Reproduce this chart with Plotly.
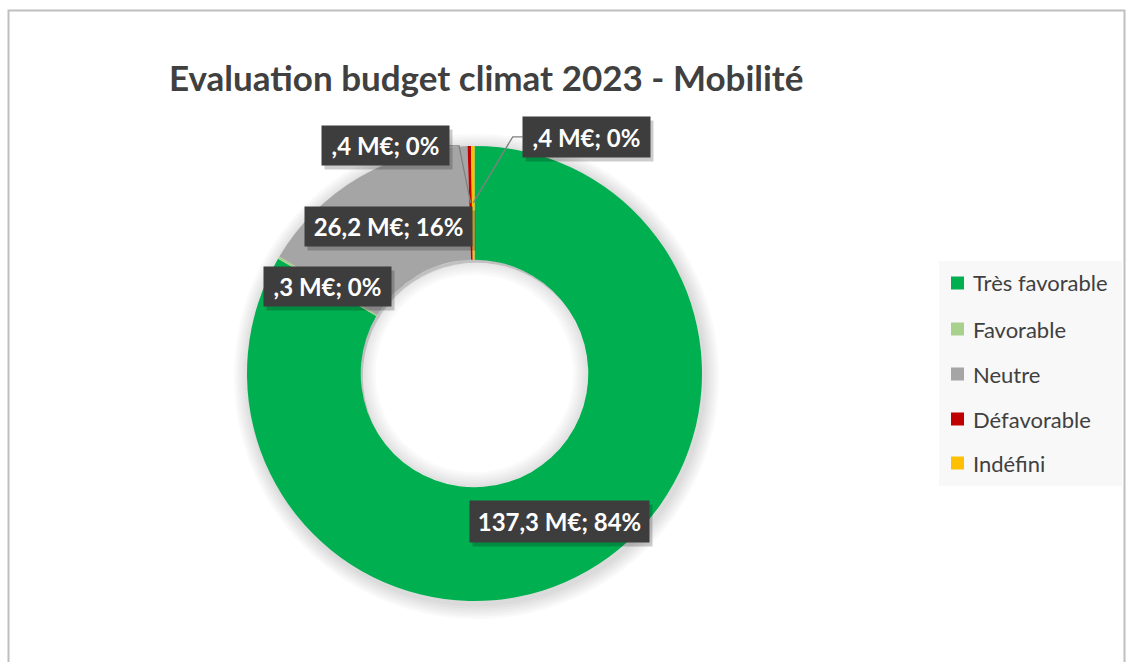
import math
import plotly.graph_objects as go

# Budget climat 2023 - Mobilité (M€), slices in clockwise order from 12 o'clock
categories = ["Très favorable", "Favorable", "Neutre", "Défavorable", "Indéfini"]
values_meur = [137.3, 0.3, 26.2, 0.4, 0.4]
percent_labels = ["84%", "0%", "16%", "0%", "0%"]
colors = ["#00B050", "#A9D18E", "#A5A5A5", "#C00000", "#FFC000"]

W, H = 1126, 662
CX, CY = 474.5, 373.5      # donut centre (px)
R_OUT = 227.5              # outer radius (px)
HOLE = 0.5
FONT = "Lato, 'Open Sans', sans-serif"
TEXT_GREY = "#404040"
BOX_GREY = "#3d3d3d"

# label layout: 'in' = centred on the ring, otherwise pixel offset + elbow side
label_mode = ["in", "in", "in", "out", "out"]
label_offset = [(0, 0), (0, 0), (0, 0), (-85, -57), (113, -66)]
label_box = [(179, 41), (127, 39), (167, 39), (127, 39), (127, 40)]


def fx(x):
    return x / W


def fy(y):
    return 1 - y / H


def domain(r, dx=0.0, dy=0.0):
    cx, cy = CX + dx, CY + dy
    return dict(x=[fx(cx - r), fx(cx + r)], y=[fy(cy + r), fy(cy - r)])


def fmt_value(v):
    s = f"{v:.1f}".replace(".", ",")
    if s.startswith("0,"):
        s = s[1:]
    return f"{s} M€"


fig = go.Figure()

# soft outer shadow of the ring
for k in range(1, 7):
    r = R_OUT + 2.5 * k
    fig.add_trace(go.Pie(
        values=[1], labels=["s"], domain=domain(r, 2, 3), hole=(R_OUT * HOLE) / r,
        marker=dict(colors=["rgba(0,0,0,0.025)"], line=dict(width=0)),
        textinfo="none", hoverinfo="skip", showlegend=False, sort=False,
    ))

# main donut
fig.add_trace(go.Pie(
    values=values_meur, labels=categories, domain=domain(R_OUT), hole=HOLE,
    marker=dict(colors=colors, line=dict(width=0)),
    sort=False, direction="clockwise", rotation=0,
    textinfo="none", showlegend=False,
))

# inner shadow inside the hole
r_in = R_OUT * HOLE
for k in range(1, 7):
    inner = r_in - 2.5 * k
    fig.add_trace(go.Pie(
        values=[1], labels=["h"], domain=domain(r_in), hole=inner / r_in,
        marker=dict(colors=["rgba(0,0,0,0.018)"], line=dict(width=0)),
        textinfo="none", hoverinfo="skip", showlegend=False, sort=False,
    ))

# data labels
total = sum(values_meur)
r_mid = R_OUT * (1 + HOLE) / 2
shapes = []
annotations = []
cum = 0.0
for i, v in enumerate(values_meur):
    theta = math.radians(360 * (cum + v / 2) / total)
    cum += v
    ax = CX + r_mid * math.sin(theta)
    ay = CY - r_mid * math.cos(theta)
    ox, oy = label_offset[i]
    bx, by = ax + ox, ay + oy
    bw, bh = label_box[i]
    if label_mode[i] == "out":
        edge = bx + bw / 2 if ox < 0 else bx - bw / 2
        elbow = edge + 10 if ox < 0 else edge - 10
        shapes.append(dict(
            type="path", xref="paper", yref="paper",
            path=f"M {fx(edge)} {fy(by)} L {fx(elbow)} {fy(by)} L {fx(ax)} {fy(ay)}",
            line=dict(color="#808080", width=1.3),
        ))
    text = f"<b>{fmt_value(v)}; {percent_labels[i]}</b>"
    common = dict(x=fx(bx), y=fy(by), xref="paper", yref="paper", showarrow=False,
                  xanchor="center", yanchor="middle", width=bw, height=bh, borderpad=0)
    # drop shadow of the label box
    annotations.append(dict(text="", xshift=3, yshift=-4,
                            bgcolor="rgba(0,0,0,0.2)", **common))
    annotations.append(dict(text=text, bgcolor=BOX_GREY,
                            font=dict(family=FONT, size=24, color="white"), **common))

# title
annotations.append(dict(
    x=fx(486), y=fy(77), xref="paper", yref="paper", showarrow=False,
    xanchor="center", yanchor="middle",
    text="<b>Evaluation budget climat 2023 - Mobilité</b>",
    font=dict(family=FONT, size=35, color=TEXT_GREY),
))

# chart frame (top and left edges visible)
shapes.append(dict(
    type="rect", xref="paper", yref="paper",
    x0=fx(8.5), x1=fx(1124.5), y0=fy(700), y1=fy(10.5),
    line=dict(color="#BFBFBF", width=2), layer="below",
))

# legend panel
shapes.append(dict(
    type="rect", xref="paper", yref="paper",
    x0=fx(939), x1=fx(1122), y0=fy(486), y1=fy(261),
    fillcolor="#F8F8F8", line=dict(width=0), layer="below",
))
legend_y = [283, 329, 374, 419, 463]
for cat, col, ly in zip(categories, colors, legend_y):
    shapes.append(dict(
        type="rect", xref="paper", yref="paper",
        x0=fx(951), x1=fx(964), y0=fy(ly + 6.5), y1=fy(ly - 6.5),
        fillcolor=col, line=dict(width=0),
    ))
    annotations.append(dict(
        x=fx(971), y=fy(ly), xref="paper", yref="paper", showarrow=False,
        xanchor="left", yanchor="middle", text=cat,
        font=dict(family=FONT, size=22, color=TEXT_GREY),
    ))

fig.update_layout(
    width=W, height=H,
    margin=dict(l=0, r=0, t=0, b=0),
    paper_bgcolor="white", plot_bgcolor="white",
    showlegend=False,
    shapes=shapes, annotations=annotations,
)

fig.write_html("out.html", config={"displayModeBar": False})
